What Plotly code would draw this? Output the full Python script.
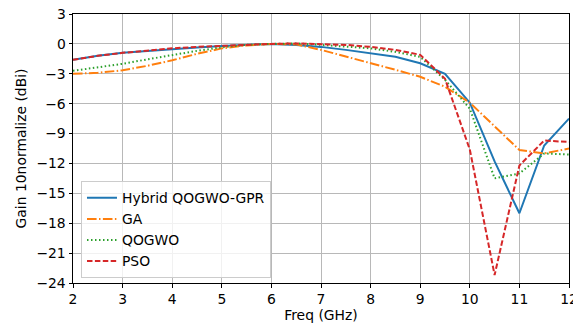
import plotly.graph_objects as go

freq = [2, 2.5, 3, 3.5, 4, 4.5, 5, 5.5, 6, 6.5, 7, 7.5, 8, 8.5, 9, 9.5, 10, 10.5, 11, 11.5, 12]
hybrid = [-1.6, -1.2, -0.9, -0.7, -0.5, -0.35, -0.2, -0.1, 0, -0.1, -0.3, -0.6, -0.95, -1.3, -1.95, -3.0, -5.9, -11.8, -17.0, -10.2, -7.5]
ga = [-3.0, -2.9, -2.65, -2.2, -1.65, -1.0, -0.45, -0.15, 0, -0.05, -0.6, -1.25, -1.95, -2.6, -3.3, -4.3, -5.9, -8.3, -10.65, -11.0, -10.5]
qogwo = [-2.7, -2.35, -2.0, -1.55, -1.1, -0.7, -0.35, -0.1, 0, 0.05, -0.1, -0.25, -0.45, -0.8, -1.3, -3.6, -6.5, -13.5, -13.0, -11.0, -11.1]
pso = [-1.6, -1.2, -0.9, -0.65, -0.45, -0.3, -0.2, -0.05, 0, 0.05, 0, -0.1, -0.3, -0.6, -1.1, -3.5, -10.6, -23.2, -12.2, -9.7, -9.85]

x_ticks = [2, 3, 4, 5, 6, 7, 8, 9, 10, 11, 12]
y_ticks = [3, 0, -3, -6, -9, -12, -15, -18, -21, -24]

series = [
    ("Hybrid QOGWO-GPR", hybrid, "#1f77b4", "solid"),
    ("GA", ga, "#ff7f0e", "9.6px,2.4px,1.5px,2.4px"),
    ("QOGWO", qogwo, "#2ca02c", "1.5px,2.5px"),
    ("PSO", pso, "#d62728", "5.5px,2.4px"),
]

fig = go.Figure()
for name, vals, color, dash in series:
    fig.add_trace(go.Scatter(x=freq, y=vals, mode="lines", name=name,
                             line=dict(color=color, width=2, dash=dash)))

font = dict(family="DejaVu Sans", size=13.9, color="black")
axis_common = dict(showgrid=True, gridcolor="#b8b8b8", gridwidth=1,
                   showline=True, linecolor="black", linewidth=1, mirror=True,
                   ticks="outside", ticklen=3.5, tickcolor="black", tickwidth=1,
                   zeroline=False, tickfont=font, automargin=False,
                   ticklabeloverflow="allow")

fig.update_layout(
    width=573, height=323,
    margin=dict(l=72.7, r=3.7, t=14.3, b=40.3),
    paper_bgcolor="white", plot_bgcolor="white",
    font=font,
    xaxis=dict(range=[2, 12], tickvals=x_ticks,
               title=dict(text="Freq (GHz)", font=font, standoff=4), **axis_common),
    yaxis=dict(range=[-24, 3], tickvals=y_ticks,
               title=dict(text="Gain 10normalize (dBi)", font=font, standoff=6), **axis_common),
    legend=dict(x=0.0161, y=0.378, xanchor="left", yanchor="top",
                bgcolor="rgba(255,255,255,0.8)", bordercolor="#cccccc", borderwidth=1,
                font=font, itemwidth=30, tracegroupgap=0),
    showlegend=True,
)

fig.write_html("out.html", config={"displayModeBar": False},
               post_script="document.body.style.margin='0';")
